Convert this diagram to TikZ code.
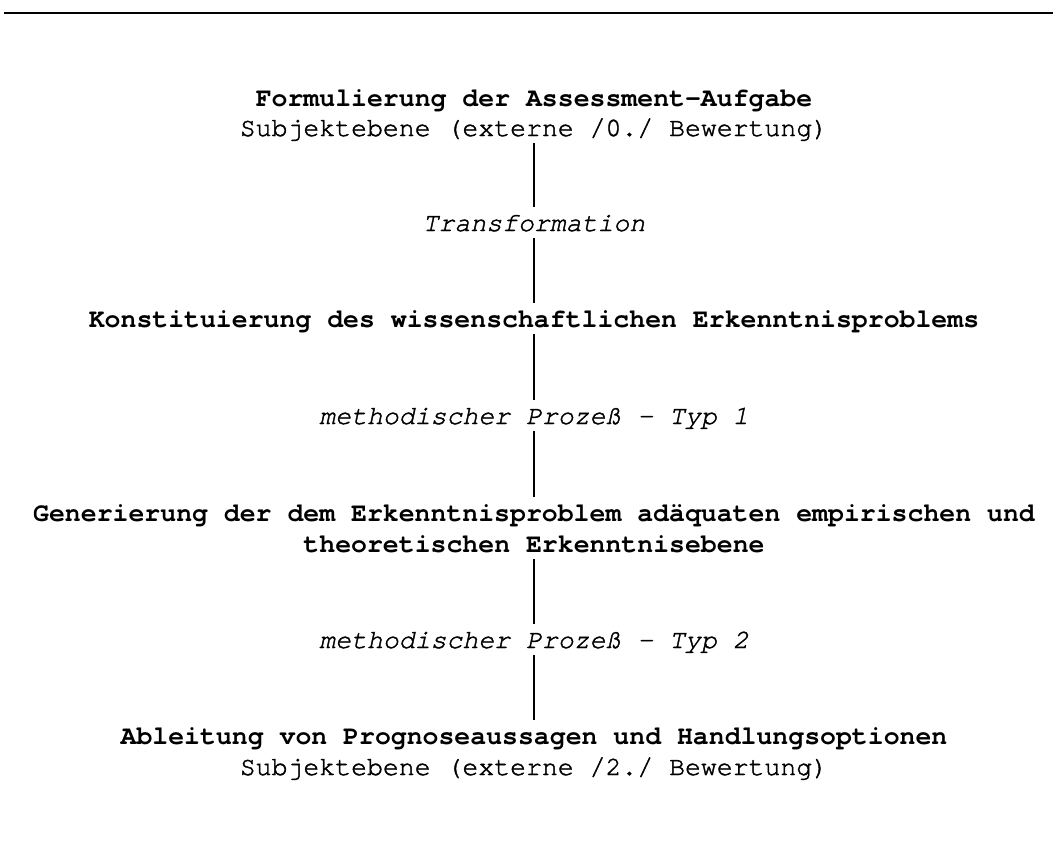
\documentclass[tikz,border=0pt]{standalone}
\usepackage{fontspec}
\setmainfont{texgyrecursor-regular.otf}[
  BoldFont=texgyrecursor-bold.otf,
  ItalicFont=texgyrecursor-italic.otf,
  BoldItalicFont=texgyrecursor-bolditalic.otf]
% slightly darkened typewriter faces for the plain and slanted lines
\newfontfamily\plainface{texgyrecursor-regular.otf}[FakeBold=1.6]
\newfontfamily\slantface{texgyrecursor-italic.otf}[FakeBold=1.6]
\newcommand{\diagfont}{\fontsize{26.5}{31}\selectfont}
\tikzset{
  txt/.style={anchor=base, inner sep=0pt, text height=24pt, text depth=7pt, font=\diagfont},
  stage/.style={txt, font=\diagfont\bfseries},
  level/.style={txt, font=\plainface\diagfont},
  proc/.style={txt, font=\slantface\diagfont},
  link/.style={line width=1.6pt},
  toprule/.style={line width=2.2pt}
}
\begin{document}
\begin{tikzpicture}[x=1pt, y=-1pt]
\useasboundingbox (0,0) rectangle (1053,855);

% rule across the top
\coordinate (ruleL) at (4,13);
\coordinate (ruleR) at (1053,13);
\draw[toprule] (ruleL) -- (ruleR);

% stages and processes, top to bottom
\node[stage] (task)  at (534,106) {Formulierung der Assessment-Aufgabe};
\node[level] (subA)  at (534,136) {Subjektebene (externe /0./ Bewertung)};
\node[proc]  (trans) at (534,231) {Transformation};
\node[stage] (konst) at (534,327) {Konstituierung des wissenschaftlichen Erkenntnisproblems};
\node[proc]  (typA)  at (534,424) {methodischer Prozeß - Typ 1};
\node[stage] (genA)  at (534,521) {Generierung der dem Erkenntnisproblem adäquaten empirischen und};
\node[stage] (genB)  at (534,552) {theoretischen Erkenntnisebene};
\node[proc]  (typB)  at (534,648) {methodischer Prozeß - Typ 2};
\node[stage] (abl)   at (534,744) {Ableitung von Prognoseaussagen und Handlungsoptionen};
\node[level] (subB)  at (534,775) {Subjektebene (externe /2./ Bewertung)};

% vertical connectors
\draw[link] (subA.south)  -- (trans.north);
\draw[link] (trans.south) -- (konst.north);
\draw[link] (konst.south) -- (typA.north);
\draw[link] (typA.south)  -- (genA.north);
\draw[link] (genB.south)  -- (typB.north);
\draw[link] (typB.south)  -- (abl.north);
\end{tikzpicture}
\end{document}
